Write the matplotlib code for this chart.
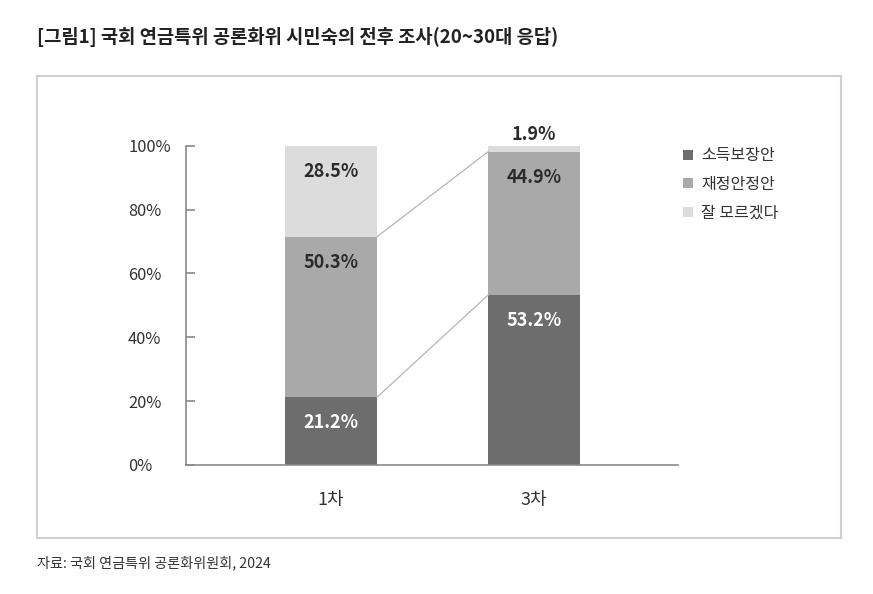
import matplotlib.pyplot as plt
from matplotlib.patches import Rectangle

plt.rcParams['font.family'] = ['Noto Sans CJK KR', 'DejaVu Sans']

# 데이터
rounds = ['1차', '3차']
series = ['소득보장안', '재정안정안', '잘 모르겠다']
income = [21.2, 53.2]
fiscal = [50.3, 44.9]
unsure = [28.5, 1.9]
yticks = [0, 20, 40, 60, 80, 100]
colors = ['#6d6d6d', '#a9a9a9', '#dcdcdc']
label_colors = ['white', '#2b2b2b', '#2b2b2b']

fig = plt.figure(figsize=(8.73, 5.94), dpi=100)
ax = fig.add_axes([0.2127, 0.2172, 0.5636, 0.5375])

x = list(range(len(rounds)))
w = 0.453
bottoms = [0.0] * len(rounds)
bars = []
for vals, c, lc in zip([income, fiscal, unsure], colors, label_colors):
    b = ax.bar(x, vals, w, bottom=bottoms, color=c, edgecolor='none')
    bars.append(b)
    for xi, v, b0 in zip(x, vals, bottoms):
        top = b0 + v
        if v < 5:
            ax.text(xi, top + 3.6, f'{v}%', ha='center', va='center',
                    fontsize=13, fontweight='bold', color='#2b2b2b')
        else:
            ax.text(xi, top - 8, f'{v}%', ha='center', va='center',
                    fontsize=13, fontweight='bold', color=lc)
    bottoms = [b0 + v for b0, v in zip(bottoms, vals)]

# 연결선
cum1 = income
cum2 = [a + b for a, b in zip(income, fiscal)]
for cum in [cum1, cum2]:
    ax.plot([x[0] + w / 2, x[1] - w / 2], [cum[0], cum[1]],
            color='#b5b5b5', lw=0.9, zorder=1)

ax.set_xlim(-0.716, 1.708)
ax.set_ylim(0, 100)
ax.set_yticks(yticks)
ax.set_yticklabels([f'{t}%' for t in yticks])
ax.set_xticks(x)
ax.set_xticklabels(rounds)

for s in ['top', 'right']:
    ax.spines[s].set_visible(False)
for s in ['left', 'bottom']:
    ax.spines[s].set_color('#8a8a8a')
    ax.spines[s].set_linewidth(1.2)

ax.tick_params(axis='y', direction='in', length=6.5, width=1.2,
               color='#8a8a8a', labelsize=11.8, labelcolor='#333333', pad=41.5)
for lab in ax.get_yticklabels():
    lab.set_horizontalalignment('left')
ax.tick_params(axis='x', length=0, labelsize=13, labelcolor='#333333', pad=19)

ax.legend([b[0] for b in bars], series, loc='upper left',
          bbox_to_anchor=(669 / 873, 1 - 133 / 594), bbox_transform=fig.transFigure,
          frameon=False, handlelength=0.6, handleheight=0.6, handletextpad=0.5,
          labelspacing=0.72, fontsize=11.5, labelcolor='#333333')

# 외곽 박스
fig.patches.append(Rectangle((37 / 873, 1 - 538 / 594), 804 / 873, 462 / 594,
                             transform=fig.transFigure, fill=False,
                             edgecolor='#d0d0d0', lw=1.5))

fig.text(37 / 873, 1 - 37 / 594,
         '[그림1] 국회 연금특위 공론화위 시민숙의 전후 조사(20~30대 응답)',
         ha='left', va='center', fontsize=13.5, fontweight='bold', color='#222222')
fig.text(37 / 873, 1 - 563 / 594, '자료: 국회 연금특위 공론화위원회, 2024',
         ha='left', va='center', fontsize=10.2, color='#333333')

plt.savefig('out.png', dpi=100)
